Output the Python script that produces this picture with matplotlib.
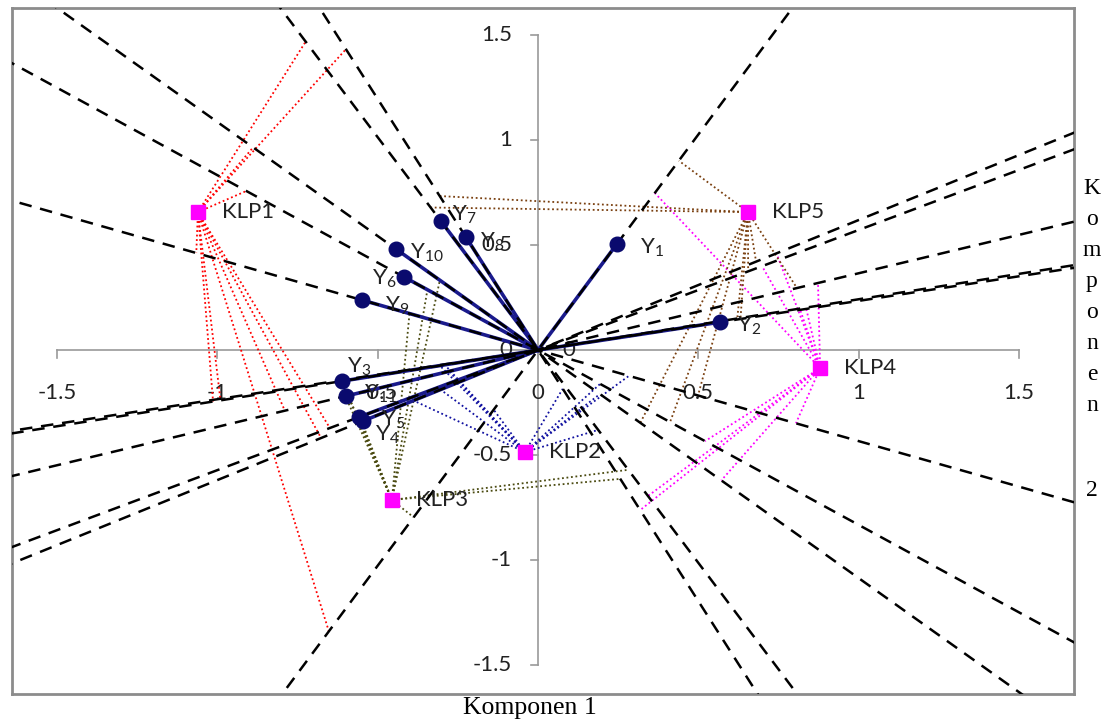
import numpy as np
import matplotlib.pyplot as plt

plt.rcParams["font.family"] = ["Lato", "DejaVu Sans"]
plt.rcParams["mathtext.fontset"] = "custom"
plt.rcParams["mathtext.rm"] = "Lato"
plt.rcParams["mathtext.it"] = "Lato"

# variable vectors (Komponen 1, Komponen 2)
var_names = ["Y1", "Y2", "Y3", "Y11", "Y4", "Y5", "Y6", "Y7", "Y8", "Y9", "Y10"]
var_x = [0.246, 0.568, -0.612, -0.599, -0.546, -0.558, -0.418, -0.303, -0.225, -0.549, -0.443]
var_y = [0.505, 0.133, -0.148, -0.219, -0.338, -0.319, 0.348, 0.614, 0.538, 0.238, 0.481]

# cluster points
klp_names = ["KLP1", "KLP2", "KLP3", "KLP4", "KLP5"]
klp_x = [-1.061, -0.041, -0.456, 0.880, 0.655]
klp_y = [0.657, -0.486, -0.714, -0.086, 0.657]

# marker position of each cluster along each variable axis (same order as var_names)
klp1_t = [-1.49, -1.018, 1.043, 0.841, 0.796, 0.748, 1.184, 1.638, 1.553, 1.162, 1.312]
klp2_t = [-0.316, -0.30, 0.315, 0.296, 0.457, 0.36, -0.252, -0.424, -0.20, -0.309, -0.285]
klp3_t = [-0.886, -0.628, 0.63, 0.64, 0.65, 0.64, 0.449, -0.636, -0.665, 0.437, 0.452]
klp4_t = [0.832, 0.84, -0.86, -0.93, -0.875, -0.805, -0.678, -0.775, -0.826, -0.877, -0.844]
klp5_t = [1.003, 0.638, -0.65, -0.86, -0.80, -0.755, -0.536, 0.757, 0.795, -0.544, -0.471]
klp_t = [klp1_t, klp2_t, klp3_t, klp4_t, klp5_t]

ticks = [-1.5, -1, -0.5, 0, 0.5, 1, 1.5]
tick_labels = ["-1.5", "-1", "-0.5", "0", "0.5", "1", "1.5"]

klp_colors = ["#ff0000", "#1010a0", "#4a4a10", "#ff00ff", "#7a4010"]

# label offsets in pixels (dx, dy) relative to the dot
lab_off = {"Y1": (23, -4), "Y2": (17, -4), "Y3": (5, 14), "Y11": (18, 2),
           "Y4": (12, -14), "Y5": (22, -3), "Y6": (-32, -2), "Y7": (11, 6),
           "Y8": (14, -5), "Y9": (23, -6), "Y10": (14, -4)}
PX = 0.72  # points per pixel at dpi 100

fig = plt.figure(figsize=(11.14, 7.21), dpi=100)
ax = fig.add_axes([12 / 1114, 1 - 694 / 721, 1062 / 1114, 686 / 721])
ax.set_xlim(-1.641, 1.672)
ax.set_ylim(-1.638, 1.629)
ax.set_xticks([])
ax.set_yticks([])
for s in ax.spines.values():
    s.set_color("#8c8c8c")
    s.set_linewidth(2)

# central axes
gray = "#9a9a9a"
ax.plot([-1.5, 1.5], [0, 0], color=gray, lw=1.2, zorder=1)
ax.plot([0, 0], [-1.5, 1.5], color=gray, lw=1.2, zorder=1)
for t, lab in zip(ticks, tick_labels):
    ax.plot([t, t], [0, -0.036], color=gray, lw=1.2, zorder=1)
    ax.plot([0, -0.022], [t, t], color=gray, lw=1.2, zorder=1)
    ax.annotate(lab, (t, 0), xytext=(0, -33 * PX), textcoords="offset points",
                ha="center", va="top", fontsize=16, color="#222222")
    ax.annotate(lab, (0, t), xytext=(-26 * PX, 0), textcoords="offset points",
                ha="right", va="center", fontsize=16, color="#222222")
ax.annotate("0", (0, 0), xytext=(24 * PX, 0), textcoords="offset points",
            ha="left", va="center", fontsize=16, color="#222222")

vx = np.array(var_x)
vy = np.array(var_y)
vn = np.hypot(vx, vy)
ux, uy = vx / vn, vy / vn

# extended variable axes
for i in range(len(var_names)):
    ax.plot([-5 * ux[i], 5 * ux[i]], [-5 * uy[i], 5 * uy[i]], color="black",
            lw=1.8, ls=(0, (5, 3.5)), zorder=4)

# dotted lines from clusters to their markers on every axis
for k in range(len(klp_names)):
    for i in range(len(var_names)):
        t = klp_t[k][i]
        ax.plot([klp_x[k], t * ux[i]], [klp_y[k], t * uy[i]], color=klp_colors[k],
                lw=1.3, ls=(0, (1, 1.5)), zorder=3)

# variable vectors
for i, name in enumerate(var_names):
    ax.plot([0, vx[i]], [0, vy[i]], color="#1a1a8c", lw=2.6, zorder=3.5)
    ax.plot(vx[i], vy[i], "o", color="#0a0a6e", ms=10.5, zorder=6)
    dx, dy = lab_off[name]
    ax.annotate("Y$_{%s}$" % name[1:], (vx[i], vy[i]), xytext=(dx * PX, dy * PX),
                textcoords="offset points", ha="left", va="center", fontsize=16,
                color="#222222", zorder=7)

# cluster points
for k, name in enumerate(klp_names):
    ax.plot(klp_x[k], klp_y[k], "s", color="#ff00ff", ms=10, zorder=6)
    ax.annotate(name, (klp_x[k], klp_y[k]), xytext=(24 * PX, 0),
                textcoords="offset points", ha="left", va="center", fontsize=16,
                color="#222222", zorder=7)

fig.text(530 / 1114, 1 - 708 / 721, "Komponen 1", ha="center", va="center",
         family="Liberation Serif", fontsize=18.5)
fig.text(1092 / 1114, 1 - 297 / 721, "\n".join("Komponen"), ha="center", va="center",
         family="Liberation Serif", fontsize=17, linespacing=1.63)
fig.text(1092 / 1114, 1 - 490 / 721, "2", ha="center", va="center",
         family="Liberation Serif", fontsize=17)

fig.savefig("out.png", dpi=100, facecolor="white")
